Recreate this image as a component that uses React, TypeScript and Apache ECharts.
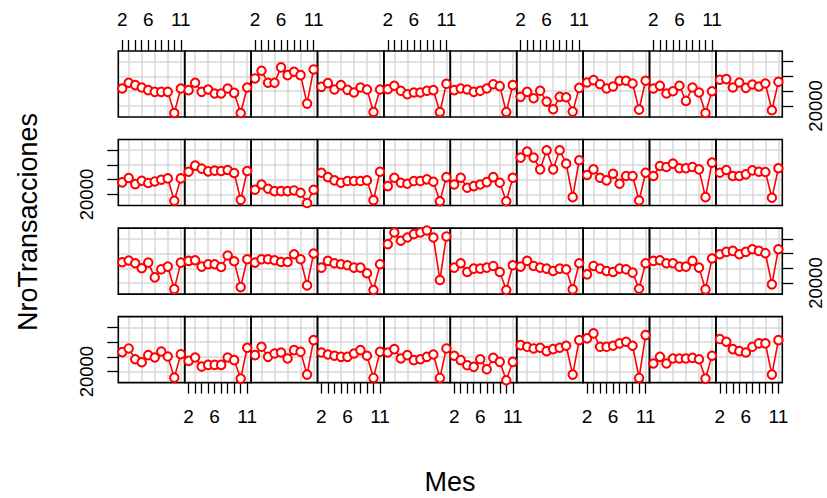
import React, { useEffect, useRef } from "react";
import * as echarts from "echarts";

// Months on the x axis (one point per month in every panel)
const months = [2, 3, 4, 5, 6, 7, 8, 9, 10, 11];
const xTickLabels = [2, 6, 11];
const xGridValues = [3, 5, 7, 9, 11];
const yTicks = [20000, 40000, 60000, 80000];
const yTickLabels = [20000];

// Panel values, displayed rows from top to bottom, columns left to right
const row1: number[][] = [
  [43600, 51400, 48200, 45000, 41400, 39100, 39100, 39100, 10500, 43600],
  [41400, 51400, 39100, 42300, 36800, 36800, 43600, 37700, 10500, 45000],
  [57300, 67700, 51400, 51400, 72300, 61800, 66400, 61800, 23200, 69500],
  [45900, 50900, 42300, 48200, 41800, 38200, 45000, 42300, 11800, 42300],
  [42700, 47300, 40500, 35900, 38200, 38200, 40500, 41400, 11800, 50000],
  [41400, 43600, 42300, 39100, 40500, 43600, 49500, 46800, 11800, 48200],
  [32300, 39100, 30500, 40500, 25900, 15500, 32300, 31800, 12300, 44500],
  [51800, 55000, 49500, 43600, 46400, 54100, 54100, 50500, 15000, 54100],
  [43600, 47300, 36800, 40000, 47300, 26800, 45000, 38200, 10500, 40000],
  [55500, 56400, 45000, 51800, 44500, 49100, 46400, 50500, 14100, 52700],
];
const row2: number[][] = [
  [36400, 42300, 34100, 38600, 35500, 37700, 40000, 41800, 11400, 41800],
  [50900, 59100, 55000, 51400, 52300, 51800, 53200, 49100, 12700, 51800],
  [26400, 33600, 27700, 24500, 24500, 24500, 25500, 22300, 8500, 26400],
  [49500, 43600, 39100, 35900, 38200, 38200, 38200, 39100, 12300, 50900],
  [31400, 42700, 35900, 34500, 38200, 38200, 40500, 37300, 10900, 43600],
  [33600, 42700, 29100, 31400, 33600, 36800, 43600, 35900, 10900, 42700],
  [70000, 78200, 70000, 54100, 80000, 54100, 80000, 61800, 16400, 66400],
  [46400, 54100, 42700, 39100, 48200, 34500, 45000, 45000, 11800, 49500],
  [45000, 58600, 57300, 61800, 55500, 55500, 57300, 54100, 16400, 63200],
  [49500, 53200, 45000, 45000, 47300, 52700, 50900, 50500, 15500, 55500],
];
const row3: number[][] = [
  [48200, 50500, 46800, 40000, 47700, 27700, 38600, 42300, 11800, 47700],
  [50000, 50900, 42300, 45500, 45500, 41800, 57300, 49500, 14500, 52300],
  [47700, 52300, 52300, 50900, 48600, 48600, 59100, 52300, 16800, 60000],
  [40900, 50000, 46800, 45500, 44100, 40900, 40900, 33200, 10500, 45500],
  [72700, 88600, 77300, 81800, 86400, 88600, 91200, 81800, 24100, 83200],
  [40900, 46800, 35000, 39500, 39500, 40900, 43200, 35000, 10500, 44100],
  [42300, 50000, 43200, 40900, 39500, 36400, 39500, 38600, 11400, 46800],
  [31800, 43200, 39500, 36400, 35000, 39500, 38600, 34100, 12300, 46800],
  [50000, 50900, 46800, 46800, 42300, 42300, 50000, 40900, 11400, 53200],
  [59100, 62300, 63600, 59100, 62300, 65900, 63600, 60500, 18200, 65900],
];
const row4: number[][] = [
  [46400, 51400, 36800, 32700, 42300, 39100, 47300, 40500, 11800, 43600],
  [34500, 39100, 26800, 29100, 29100, 29100, 39100, 35500, 10500, 52300],
  [42300, 53600, 40000, 44500, 45900, 37700, 49100, 46800, 15900, 62700],
  [45900, 43200, 41400, 40000, 40000, 44500, 49100, 41400, 11400, 46800],
  [45900, 50500, 37700, 42300, 35500, 36800, 40000, 43200, 11400, 51400],
  [41400, 35500, 28600, 26400, 36800, 23200, 38600, 33200, 8300, 33200],
  [55900, 53600, 51400, 52300, 47700, 50500, 52300, 55000, 15900, 62700],
  [65000, 71800, 53600, 53600, 55000, 58200, 60500, 55000, 11400, 69500],
  [30900, 40000, 30900, 37700, 37700, 37700, 38600, 36800, 10500, 41400],
  [64100, 60500, 50500, 47700, 45900, 53600, 58200, 58200, 15900, 62700],
];
const rows = [row1, row2, row3, row4];

const FONT = '"Liberation Sans", Arial, Helvetica, sans-serif';
const RED = "#ff0000";
const GRIDCOL = "#d9d9d9";

function buildOption() {
  const grids: any[] = [];
  const xAxes: any[] = [];
  const yAxes: any[] = [];
  const series: any[] = [];
  const left0 = 118.3;
  const pw = 66.4;
  const top0 = 51;
  const pitch = 88.55;
  const ph = 66;
  const nRows = rows.length;
  rows.forEach((row, r) => {
    row.forEach((vals, c) => {
      const gi = grids.length;
      grids.push({
        left: left0 + c * pw,
        top: top0 + r * pitch,
        width: pw,
        height: ph,
        show: true,
        z: 3,
        borderColor: "#000",
        borderWidth: 1.6,
        backgroundColor: "transparent",
        containLabel: false,
        outerBoundsMode: "none",
      });
      const topTicks = r === 0 && c % 2 === 0;
      const bottomTicks = r === nRows - 1 && c % 2 === 1;
      // axis carrying the vertical reference lines (and the data)
      const gridAxisIdx = xAxes.length;
      xAxes.push({
        gridIndex: gi,
        type: "value",
        min: 1.4,
        max: 11.6,
        z: 0,
        position: topTicks ? "bottom" : "top",
        axisLine: { show: false },
        axisTick: { show: false, customValues: xGridValues },
        axisLabel: { show: false, customValues: xGridValues },
        splitLine: { show: true, lineStyle: { color: GRIDCOL, width: 1.5 } },
      });
      if (topTicks || bottomTicks) {
        xAxes.push({
          gridIndex: gi,
          type: "value",
          min: 1.4,
          max: 11.6,
          position: topTicks ? "top" : "bottom",
          axisLine: { show: false },
          axisTick: {
            show: true,
            inside: false,
            length: 11,
            customValues: months,
            lineStyle: { color: "#000", width: 1.3 },
          },
          axisLabel: {
            show: true,
            customValues: xTickLabels,
            formatter: (v: number) => String(v),
            margin: topTicks ? 22 : 24,
            fontSize: 19,
            fontFamily: FONT,
            color: "#000",
          },
          splitLine: { show: false },
        });
      }
      const rightTicks = (r === 0 || r === 2) && c === row.length - 1;
      const leftTicks = (r === 1 || r === 3) && c === 0;
      const hasY = rightTicks || leftTicks;
      yAxes.push({
        gridIndex: gi,
        type: "value",
        min: 5000,
        max: 94500,
        z: 0,
        position: rightTicks ? "right" : "left",
        axisLine: { show: false },
        axisTick: {
          show: hasY,
          inside: false,
          length: 11,
          customValues: yTicks,
          lineStyle: { color: "#000", width: 1.3 },
        },
        axisLabel: {
          show: hasY,
          customValues: yTickLabels,
          formatter: (v: number) => String(v),
          rotate: 90,
          margin: rightTicks ? 24 : 22,
          fontSize: 18.5,
          fontFamily: FONT,
          color: "#000",
        },
        splitLine: { show: true, lineStyle: { color: GRIDCOL, width: 1.5 } },
      });
      series.push({
        type: "line",
        xAxisIndex: gridAxisIdx,
        yAxisIndex: gi,
        data: months.map((m, k) => [m, vals[k]]),
        symbol: "emptyCircle",
        symbolSize: 8.5,
        showSymbol: true,
        clip: false,
        lineStyle: { color: RED, width: 1.6 },
        itemStyle: { color: RED, borderColor: RED, borderWidth: 1.7 },
        emphasis: { disabled: true },
        z: 5,
      });
    });
  });
  return {
    animation: false,
    backgroundColor: "#fff",
    grid: grids,
    xAxis: xAxes,
    yAxis: yAxes,
    series,
    graphic: [
      {
        type: "text",
        x: 450,
        y: 482,
        style: {
          text: "Mes",
          fontSize: 27,
          fontFamily: FONT,
          fill: "#000",
          align: "center",
          verticalAlign: "middle",
        },
      },
      {
        type: "text",
        x: 28,
        y: 222,
        rotation: Math.PI / 2,
        style: {
          text: "NroTransacciones",
          fontSize: 27,
          fontFamily: FONT,
          fill: "#000",
          align: "center",
          verticalAlign: "middle",
        },
      },
    ],
  };
}

export default function App() {
  const ref = useRef<HTMLDivElement>(null);
  useEffect(() => {
    if (!ref.current) return;
    const chart = echarts.init(ref.current, undefined, { renderer: "svg" });
    chart.setOption(buildOption() as any);
    return () => chart.dispose();
  }, []);
  return (
    <div
      ref={ref}
      style={{ position: "absolute", left: 0, top: 0, width: 827, height: 498, background: "#fff" }}
    />
  );
}
